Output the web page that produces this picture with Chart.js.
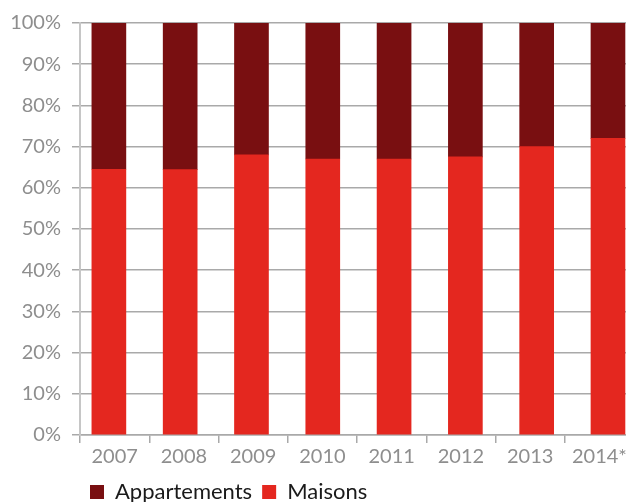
<!DOCTYPE html>
<html lang="fr">
<head>
<meta charset="utf-8">
<title>Maisons / Appartements</title>
<script src="https://cdn.jsdelivr.net/npm/chart.js@4/dist/chart.umd.min.js"></script>
<style>
  html, body { margin: 0; padding: 0; background: #fff; overflow: hidden; }
  #wrap { width: 640px; height: 513px; }
</style>
</head>
<body>
<div id="wrap"><canvas id="myChart" width="640" height="513"></canvas></div>
<script>
const years = ['2007', '2008', '2009', '2010', '2011', '2012', '2013', '2014*'];
const maisons = [64.5, 64.4, 68, 67, 67, 67.5, 70, 72];
const appartements = [35.5, 35.6, 32, 33, 33, 32.5, 30, 28];
const yTicks = [0, 10, 20, 30, 40, 50, 60, 70, 80, 90, 100];

const grey = '#8e8e8e';
const gridGrey = '#a9a9a9';
const fontFamily = 'Lato, "Open Sans", sans-serif';

// points for the hidden linear axis that carries the bars
const toPoints = arr => arr.map((v, i) => ({ x: i, y: v }));

const ctx = document.getElementById('myChart').getContext('2d');

const data = {
  labels: years,
  datasets: [{
    label: 'Maisons',
    data: toPoints(maisons),
    backgroundColor: '#e4271f',
    xAxisID: 'x2',
    stack: 'total',
    barThickness: 34
  }, {
    label: 'Appartements',
    data: toPoints(appartements),
    backgroundColor: '#790f11',
    xAxisID: 'x2',
    stack: 'total',
    barThickness: 34
  }]
};

const config = {
  type: 'bar',
  data: data,
  options: {
    responsive: false,
    animation: false,
    layout: { padding: { top: 21, right: 6, bottom: 0, left: 0 } },
    plugins: {
      tooltip: { enabled: false },
      legend: {
        position: 'bottom',
        align: 'start',
        fullSize: false,
        reverse: true,
        labels: {
          boxWidth: 14,
          boxHeight: 14,
          padding: 10,
          color: '#1a1a1a',
          font: { family: fontFamily, size: 22 }
        }
      }
    },
    scales: {
      // visible axis: year labels and the small tick marks between years
      x: {
        type: 'category',
        axis: 'x',
        offset: true,
        grid: {
          offset: true,
          drawOnChartArea: false,
          drawTicks: true,
          tickLength: 8,
          color: gridGrey,
          lineWidth: 1.5
        },
        border: { color: gridGrey, width: 1.5 },
        ticks: {
          color: grey,
          padding: 2,
          maxRotation: 0,
          font: { family: fontFamily, size: 20 }
        }
      },
      // bars sit on their own linear axis
      x2: {
        type: 'linear',
        axis: 'x',
        display: false,
        offset: false,
        stacked: true,
        min: -0.405,
        max: 7.365
      },
      y: {
        stacked: true,
        min: 0,
        max: 100,
        afterFit: scale => { scale.width = 80; },
        afterBuildTicks: scale => { scale.ticks = yTicks.map(v => ({ value: v })); },
        grid: {
          color: gridGrey,
          lineWidth: 1.5,
          tickLength: 8
        },
        border: { color: '#c6c6c6', width: 2 },
        ticks: {
          color: grey,
          padding: 11,
          font: { family: fontFamily, size: 20 },
          callback: v => v + '%'
        }
      }
    }
  }
};

new Chart(ctx, config);
</script>
</body>
</html>
